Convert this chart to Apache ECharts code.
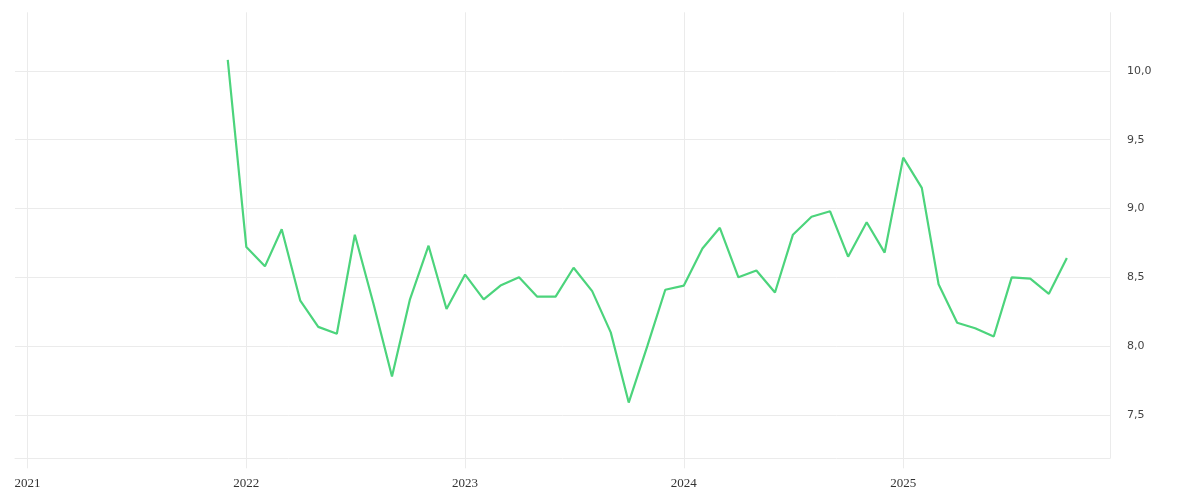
<!DOCTYPE html>
<html>
<head>
<meta charset="utf-8">
<script src="https://cdn.jsdelivr.net/npm/echarts@6/dist/echarts.min.js"></script>
<style>
html,body{margin:0;padding:0;background:#fff;}
#chart{width:1200px;height:500px;}
</style>
</head>
<body>
<div id="chart"></div>
<script>
// Monthly dates (first of month), Dec 2021 .. Oct 2025
const dates = [
  '2021-12-01',
  '2022-01-01','2022-02-01','2022-03-01','2022-04-01','2022-05-01','2022-06-01',
  '2022-07-01','2022-08-01','2022-09-01','2022-10-01','2022-11-01','2022-12-01',
  '2023-01-01','2023-02-01','2023-03-01','2023-04-01','2023-05-01','2023-06-01',
  '2023-07-01','2023-08-01','2023-09-01','2023-10-01','2023-11-01','2023-12-01',
  '2024-01-01','2024-02-01','2024-03-01','2024-04-01','2024-05-01','2024-06-01',
  '2024-07-01','2024-08-01','2024-09-01','2024-10-01','2024-11-01','2024-12-01',
  '2025-01-01','2025-02-01','2025-03-01','2025-04-01','2025-05-01','2025-06-01',
  '2025-07-01','2025-08-01','2025-09-01','2025-10-01'
];
const values = [
  10.08,
  8.72, 8.58, 8.85, 8.33, 8.14, 8.09,
  8.81, 8.31, 7.78, 8.34, 8.73, 8.27,
  8.52, 8.34, 8.44, 8.50, 8.36, 8.36,
  8.57, 8.40, 8.10, 7.59, 8.00, 8.41,
  8.44, 8.71, 8.86, 8.50, 8.55, 8.39,
  8.81, 8.94, 8.98, 8.65, 8.90, 8.68,
  9.37, 9.15, 8.45, 8.17, 8.13, 8.07,
  8.50, 8.49, 8.38, 8.64
];
const xRange = ['2020-12-11', '2025-12-12'];
const yRange = [7.185, 10.426];

const chart = echarts.init(document.getElementById('chart'));
chart.setOption({
  animation: false,
  backgroundColor: '#ffffff',
  grid: { left: 15, right: 90, top: 12.3, bottom: 41.7, containLabel: false },
  xAxis: {
    type: 'time',
    min: xRange[0],
    max: xRange[1],
    minInterval: 360 * 24 * 3600 * 1000,
    axisLine: { show: true, lineStyle: { color: '#ebebeb', width: 1 } },
    axisTick: { show: true, length: 10, lineStyle: { color: '#ebebeb' } },
    splitLine: { show: true, showMinLine: false, showMaxLine: true, lineStyle: { color: '#ebebeb', width: 1 } },
    axisLabel: {
      formatter: '{yyyy}',
      showMinLabel: false,
      showMaxLabel: false,
      margin: 19,
      fontFamily: 'Liberation Serif',
      fontSize: 13,
      color: '#333'
    }
  },
  yAxis: {
    type: 'value',
    position: 'right',
    min: yRange[0],
    max: yRange[1],
    minInterval: 0.5,
    maxInterval: 0.5,
    axisLine: { show: false },
    axisTick: { show: false },
    splitLine: { show: true, showMinLine: false, showMaxLine: false, lineStyle: { color: '#ebebeb', width: 1 } },
    axisLabel: {
      showMinLabel: false,
      showMaxLabel: false,
      margin: 17,
      padding: [7, 0, 0, 0],
      fontFamily: 'DejaVu Sans',
      fontSize: 11,
      color: '#444',
      formatter: v => v.toFixed(1).replace('.', ',')
    }
  },
  series: [{
    type: 'line',
    data: dates.map((d, i) => [d, values[i]]),
    showSymbol: false,
    symbol: 'none',
    lineStyle: { color: '#4cd47c', width: 2.2 },
    itemStyle: { color: '#4cd47c' }
  }]
});
</script>
</body>
</html>
